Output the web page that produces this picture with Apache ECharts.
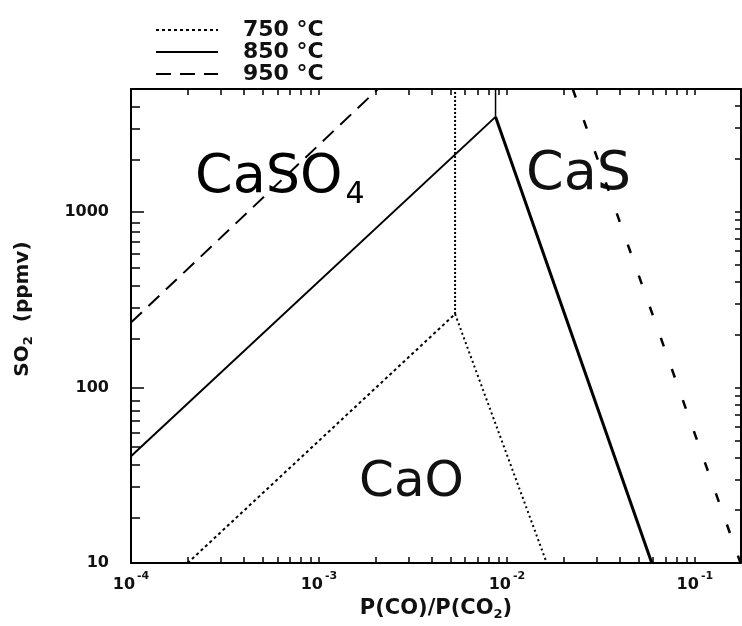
<!DOCTYPE html>
<html><head><meta charset="utf-8">
<script src="https://cdn.jsdelivr.net/npm/echarts@6/dist/echarts.min.js"></script>
<style>html,body{margin:0;padding:0;background:#fff}#c{width:742px;height:626px}</style>
</head><body><div id="c"></div>
<script>
// ---- axis ranges & ticks ----
const xMin = 1e-4, xMax = 0.176;
const yMin = 10, yMax = 5000;
const xMajorTicks = [1e-4, 1e-3, 1e-2, 1e-1];
const xTickExponents = ['-4', '-3', '-2', '-1'];
const xMinorTicks = [2e-4,3e-4,4e-4,5e-4,6e-4,7e-4,8e-4,9e-4,
                     2e-3,3e-3,4e-3,5e-3,6e-3,7e-3,8e-3,9e-3,
                     2e-2,3e-2,4e-2,5e-2,6e-2,7e-2,8e-2,9e-2];
const yMajorTicks = [10, 100, 1000];
const yTickLabels = ['10', '100', '1000'];
const yMinorTicks = [20,30,40,50,60,70,80,90,200,300,400,500,600,700,800,900,2000,3000,4000];

// ---- phase boundary lines [P(CO)/P(CO2), SO2 ppmv] ----
const t750_CaSO4_CaO = [[2.0e-4, 10], [5.3e-3, 262]];
const t750_CaSO4_CaS = [[5.3e-3, 262], [5.3e-3, 5000]];
const t750_CaS_CaO   = [[5.3e-3, 262], [0.0163, 10]];
const t850_CaSO4_CaO = [[1e-4, 40.6], [8.7e-3, 3470]];
const t850_CaSO4_CaS = [[8.7e-3, 3470], [8.7e-3, 5000]];
const t850_CaS_CaO   = [[8.7e-3, 3470], [0.059, 10]];
const t950_CaSO4_CaO = [[1e-4, 234], [2.06e-3, 5000]];
const t950_CaS_CaO   = [[0.0224, 5000], [0.175, 10]];

const seriesNames = ['750 °C', '850 °C', '950 °C'];
const FONT = 'DejaVu Sans';

function seg(name, data, type, width) {
  return {type:'line', name, data, xAxisIndex:0, yAxisIndex:0, symbol:'none', showSymbol:false,
    silent:true, animation:false, clip:true,
    itemStyle:{color:'#000'},
    lineStyle:{color:'#000', width, type}};
}
function near(a, b) { return Math.abs(a - b) / b < 1e-6; }

const gridRect = {left:131, right:1, top:89, bottom:54};
const axisLineStyle = {color:'#000', width:2};

const chart = echarts.init(document.getElementById('c'), null, {renderer:'canvas'});
chart.setOption({
  backgroundColor:'#fff',
  animation:false,
  grid:[Object.assign({}, gridRect), Object.assign({}, gridRect)],
  legend:{
    data: seriesNames, orient:'vertical', left:150, top:14,
    itemWidth:62, itemHeight:10, itemGap:0, selectedMode:false,
    itemStyle:{opacity:0},
    textStyle:{fontFamily:FONT, fontSize:22, fontWeight:'bold', color:'#111', lineHeight:20, padding:[0,0,0,20]}
  },
  xAxis:[
    {type:'log', logBase:10, gridIndex:0, position:'bottom', min:xMin, max:xMax,
     axisLine:{lineStyle:axisLineStyle},
     axisTick:{inside:true, length:6, customValues: xMajorTicks.concat(xMinorTicks), lineStyle:{color:'#000', width:1.5}},
     axisLabel:{customValues: xMajorTicks, margin:8,
       formatter: v => { const i = xMajorTicks.findIndex(t => near(v, t)); return i < 0 ? '' : '{b|10}{s|' + xTickExponents[i] + '}'; },
       rich:{b:{fontFamily:FONT, fontSize:16, fontWeight:'bold', color:'#111', lineHeight:22, verticalAlign:'bottom'},
             s:{fontFamily:FONT, fontSize:11, fontWeight:'bold', color:'#111', lineHeight:22, verticalAlign:'top', padding:[0,0,0,2]}}},
     splitLine:{show:false}, minorTick:{show:false},
     name:'{a|P(CO)/P(CO}{s|2}{a|)}', nameLocation:'middle', nameGap:26,
     nameTextStyle:{rich:{a:{fontFamily:FONT, fontSize:21, fontWeight:'bold', color:'#111', lineHeight:24},
                          s:{fontFamily:FONT, fontSize:13, fontWeight:'bold', color:'#111', lineHeight:24, verticalAlign:'bottom', padding:[10,0,0,0]}}}
    },
    {type:'log', logBase:10, gridIndex:1, position:'top', min:xMin, max:xMax,
     axisLine:{lineStyle:axisLineStyle},
     axisTick:{inside:true, length:6, customValues: xMajorTicks.concat(xMinorTicks), lineStyle:{color:'#000', width:1.5}},
     axisLabel:{show:false}, splitLine:{show:false}}
  ],
  yAxis:[
    {type:'log', logBase:10, gridIndex:0, position:'left', min:yMin, max:yMax,
     axisLine:{lineStyle:axisLineStyle},
     axisTick:{inside:true, length:13, customValues: yMajorTicks, lineStyle:{color:'#000', width:1.5}},
     axisLabel:{customValues: yMajorTicks, margin:22, fontFamily:FONT, fontSize:16, fontWeight:'bold', color:'#111',
       formatter: v => { const i = yMajorTicks.findIndex(t => near(v, t)); return i < 0 ? '' : yTickLabels[i]; }},
     splitLine:{show:false}, minorTick:{show:false},
     name:'{a|SO}{s|2}{a|  (ppmv)}', nameLocation:'middle', nameGap:96, nameRotate:90,
     nameTextStyle:{padding:[0,0,0,34], rich:{a:{fontFamily:FONT, fontSize:20, fontWeight:'bold', color:'#111', lineHeight:24},
                          s:{fontFamily:FONT, fontSize:13, fontWeight:'bold', color:'#111', lineHeight:24, verticalAlign:'bottom', padding:[10,0,0,0]}}}
    },
    {type:'log', logBase:10, gridIndex:0, position:'right', min:yMin, max:yMax,
     axisLine:{lineStyle:axisLineStyle},
     axisTick:{inside:true, length:6, customValues: yMajorTicks.concat(yMinorTicks), lineStyle:{color:'#000', width:1.5}},
     axisLabel:{show:false}, splitLine:{show:false}},
    {type:'log', logBase:10, gridIndex:1, position:'left', min:yMin, max:yMax,
     axisLine:{show:false},
     axisTick:{inside:true, length:9, customValues: yMinorTicks, lineStyle:{color:'#000', width:1.5}},
     axisLabel:{show:false}, splitLine:{show:false}}
  ],
  series:[
    seg(seriesNames[0], t750_CaSO4_CaO, [3,3], 2),
    seg(seriesNames[0], t750_CaSO4_CaS, [2,2], 2),
    seg(seriesNames[0], t750_CaS_CaO, [2,3], 2),
    seg(seriesNames[1], t850_CaSO4_CaO, 'solid', 2),
    seg(seriesNames[1], t850_CaSO4_CaS, 'solid', 1.5),
    seg(seriesNames[1], t850_CaS_CaO, 'solid', 3),
    seg(seriesNames[2], t950_CaSO4_CaO, [15,9], 2),
    seg(seriesNames[2], t950_CaS_CaO, [9,24], 2.5)
  ],
  graphic:[
    {type:'text', left:195, top:151, style:{text:'{a|CaSO}{s|4}', rich:{
      a:{fontFamily:FONT, fontSize:54, color:'#111', lineHeight:54, verticalAlign:'bottom'},
      s:{fontFamily:FONT, fontSize:30, color:'#111', lineHeight:54, verticalAlign:'bottom', padding:[0,0,-5,3]}}}},
    {type:'text', left:526, top:148, style:{text:'CaS', fontFamily:FONT, fontSize:54, fill:'#111'}},
    {type:'text', left:359, top:458, style:{text:'CaO', fontFamily:FONT, fontSize:50, fill:'#111'}}
  ]
});
</script></body></html>
